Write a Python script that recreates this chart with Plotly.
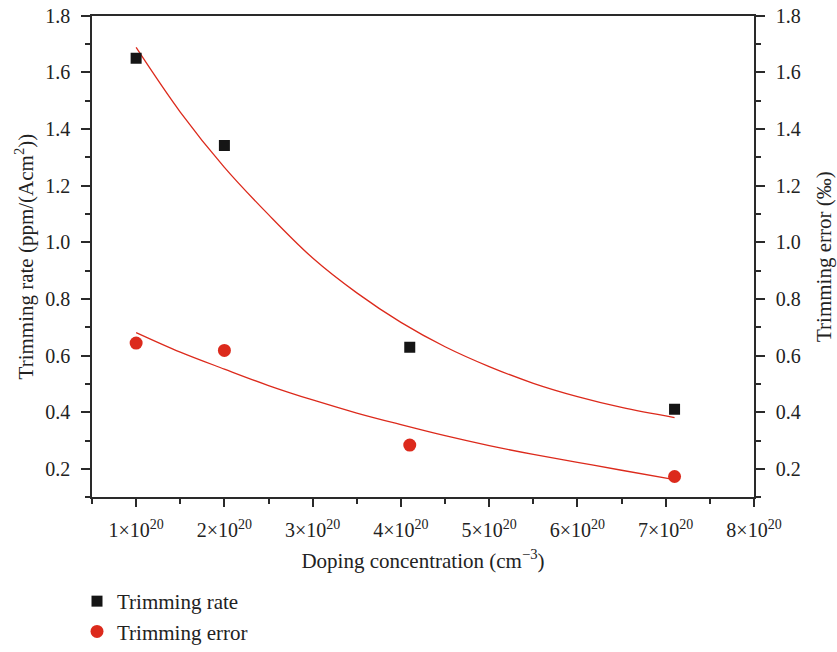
import plotly.graph_objects as go

# Data
doping = [1e20, 2e20, 4.1e20, 7.1e20]
trimming_rate = [1.65, 1.342, 0.63, 0.411]
trimming_error = [0.645, 0.619, 0.285, 0.174]

# Fit curves
fit_x = [1e20, 1.5e20, 2e20, 2.5e20, 3e20, 3.5e20, 4e20, 4.5e20, 5e20, 5.5e20, 6e20, 6.5e20, 7.1e20]
fit_rate = [1.688, 1.46, 1.265, 1.098, 0.945, 0.822, 0.718, 0.632, 0.562, 0.503, 0.456, 0.418, 0.382]
fit_error = [0.682, 0.613, 0.553, 0.495, 0.444, 0.398, 0.357, 0.318, 0.283, 0.252, 0.224, 0.196, 0.163]

x_tickvals = [1e20, 2e20, 3e20, 4e20, 5e20, 6e20, 7e20, 8e20]
x_ticktext = [f"{i}×10<sup>20</sup>" for i in range(1, 9)]
y_tickvals = [0.2, 0.4, 0.6, 0.8, 1.0, 1.2, 1.4, 1.6, 1.8]
y_ticktext = ["0.2", "0.4", "0.6", "0.8", "1.0", "1.2", "1.4", "1.6", "1.8"]

RED = "#dc2a1c"
BLACK = "#151515"
AX = "#2a2a2a"
FONT = "Liberation Serif"
TICK_SIZE = 20
TITLE_SIZE = 21
W, H = 837, 652

fig = go.Figure()
fig.add_trace(go.Scatter(x=fit_x, y=fit_rate, mode="lines", line=dict(color=RED, width=1.3, shape="spline"),
                         showlegend=False, hoverinfo="skip"))
fig.add_trace(go.Scatter(x=fit_x, y=fit_error, mode="lines", line=dict(color=RED, width=1.3, shape="spline"),
                         showlegend=False, hoverinfo="skip"))
fig.add_trace(go.Scatter(x=doping, y=trimming_rate, mode="markers", name="Trimming rate",
                         marker=dict(symbol="square", size=11, color=BLACK)))
fig.add_trace(go.Scatter(x=doping, y=trimming_error, mode="markers", name="Trimming error",
                         marker=dict(symbol="circle", size=13, color=RED)))
# dummy trace to activate right axis
fig.add_trace(go.Scatter(x=[None], y=[None], yaxis="y2", showlegend=False, hoverinfo="skip"))

axis_common = dict(showgrid=False, zeroline=False, showline=True, linecolor=AX, linewidth=1.5,
                   ticks="outside", tickcolor=AX, tickwidth=1.5, automargin=False,
                   tickfont=dict(family=FONT, size=TICK_SIZE, color="#222"))

x_dom = [92 / W, 754 / W]
y_dom = [(H - 506) / H, (H - 16) / H]

fig.update_layout(
    width=W, height=H,
    margin=dict(l=0, r=0, t=0, b=0),
    plot_bgcolor="white", paper_bgcolor="white",
    font=dict(family=FONT, size=TITLE_SIZE, color="#222"),
    xaxis=dict(**axis_common, domain=x_dom, range=[0.5e20, 8e20], tickvals=x_tickvals, ticktext=x_ticktext,
               ticklen=8, mirror=True, ticklabelstandoff=6,
               minor=dict(ticks="outside", ticklen=5, dtick=0.5e20, tick0=0, tickcolor=AX, tickwidth=1.5),
               title=dict(text="Doping concentration (cm<sup>−3</sup>)", font=dict(family=FONT, size=TITLE_SIZE),
                          standoff=13)),
    yaxis=dict(**axis_common, domain=y_dom, range=[0.1, 1.8], tickvals=y_tickvals, ticktext=y_ticktext,
               ticklen=9, ticklabelstandoff=7,
               minor=dict(ticks="outside", ticklen=5, dtick=0.1, tick0=0, tickcolor=AX, tickwidth=1.5),
               title=dict(text="Trimming rate (ppm/(Acm<sup>2</sup>))", font=dict(family=FONT, size=TITLE_SIZE),
                          standoff=6)),
    yaxis2=dict(**axis_common, domain=y_dom, range=[0.1, 1.8], tickvals=y_tickvals, ticktext=y_ticktext,
                ticklen=9, ticklabelstandoff=7, overlaying="y", side="right", anchor="x",
                minor=dict(ticks="outside", ticklen=5, dtick=0.1, tick0=0, tickcolor=AX, tickwidth=1.5),
                title=dict(text="Trimming error (‰)", font=dict(family=FONT, size=TITLE_SIZE), standoff=17)),
    legend=dict(x=77 / W, y=(H - 591) / H, xanchor="left", yanchor="top", orientation="v",
                font=dict(family=FONT, size=TITLE_SIZE, color="#222"), bgcolor="rgba(0,0,0,0)",
                tracegroupgap=0),
)

fig.write_html("out.html")
